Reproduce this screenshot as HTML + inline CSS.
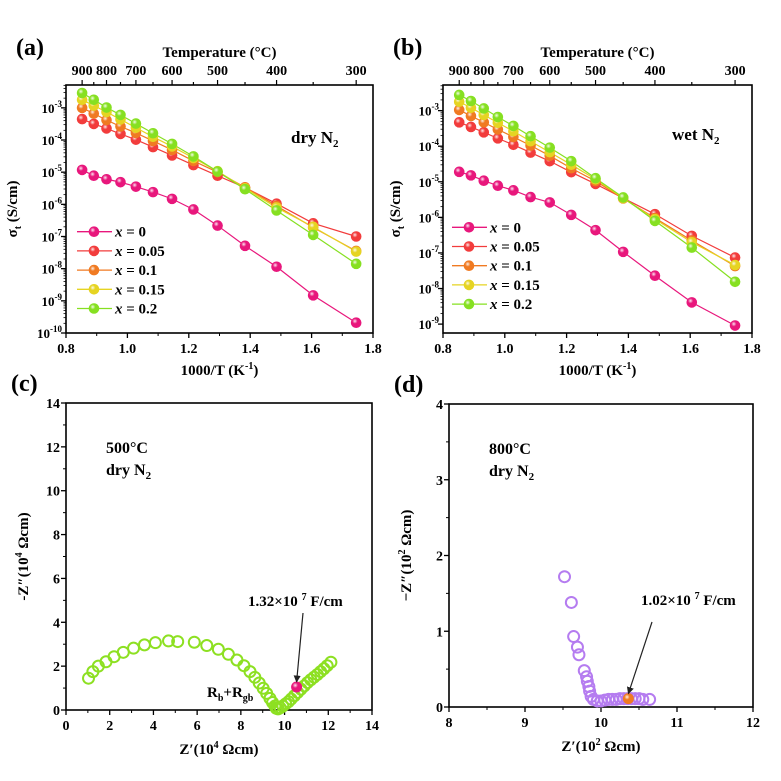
<!DOCTYPE html>
<html><head><meta charset="utf-8"><style>
body{margin:0;background:#fff}
svg{display:block;font-family:"Liberation Serif",serif;font-weight:bold}
</style></head><body>
<svg id="fig" width="781" height="781" viewBox="0 0 781 781" xmlns="http://www.w3.org/2000/svg">
<defs>
<radialGradient id="gl" cx="0.38" cy="0.35" r="0.7"><stop offset="0" stop-color="#fff" stop-opacity="0.9"/><stop offset="0.35" stop-color="#fff" stop-opacity="0"/></radialGradient>
<marker id="ah" viewBox="0 0 10 10" refX="9" refY="5" markerWidth="6" markerHeight="6" orient="auto"><path d="M0,0L10,5L0,10z" fill="#222"/></marker>
</defs>
<g id="root"></g>
</svg>
<script>
// ---- data ----
const temps = [900,850,800,750,700,650,600,550,500,450,400,350,300];
const seriesNames = ["x = 0","x = 0.05","x = 0.1","x = 0.15","x = 0.2"];
const seriesColors = ["#e8177c","#f23c3c","#f07a22","#e6d422","#86e021"];
const dry0 = [-4.93,-5.11,-5.22,-5.31,-5.45,-5.62,-5.83,-6.16,-6.66,-7.29,-7.94,-8.83,-9.68];
const dry05 = [-3.35,-3.50,-3.64,-3.81,-3.99,-4.22,-4.48,-4.78,-5.11,-5.48,-5.98,-6.59,-7.00];
const dry10 = [-3.00,-3.18,-3.38,-3.58,-3.78,-4.03,-4.31,-4.65,-5.00,-5.47,-6.05,-6.72,-7.45];
const dry15 = [-2.75,-2.93,-3.13,-3.36,-3.62,-3.90,-4.20,-4.56,-4.97,-5.50,-6.10,-6.70,-7.47];
const dry20 = [-2.54,-2.75,-2.99,-3.22,-3.49,-3.79,-4.12,-4.51,-4.98,-5.53,-6.19,-6.95,-7.85];
const wet0 = [-4.72,-4.82,-4.97,-5.11,-5.24,-5.43,-5.58,-5.93,-6.36,-6.97,-7.64,-8.39,-9.04];
const wet05 = [-3.33,-3.46,-3.61,-3.78,-3.96,-4.18,-4.42,-4.73,-5.06,-5.46,-5.91,-6.52,-7.13];
const wet10 = [-2.98,-3.15,-3.33,-3.53,-3.74,-3.98,-4.27,-4.62,-4.98,-5.47,-6.02,-6.65,-7.37];
const wet15 = [-2.75,-2.92,-3.12,-3.34,-3.58,-3.86,-4.17,-4.52,-4.93,-5.46,-6.05,-6.70,-7.34];
const wet20 = [-2.56,-2.73,-2.94,-3.18,-3.43,-3.72,-4.04,-4.42,-4.90,-5.44,-6.10,-6.85,-7.81];
const topLabels = [900,800,700,600,500,400,300];
const xTicks = [0.8,1.0,1.2,1.4,1.6,1.8];
const cZre = [1.03,1.23,1.48,1.83,2.2,2.62,3.09,3.59,4.09,4.69,5.11,5.87,6.44,6.97,7.43,7.82,8.14,8.42,8.64,8.84,9.02,9.18,9.33,9.45,9.56,9.62,9.7,9.8,9.92,10.05,10.18,10.3,10.45,10.6,10.75,10.9,11.05,11.2,11.35,11.5,11.65,11.8,11.95,12.12];
const cZim = [1.45,1.75,2.0,2.2,2.43,2.63,2.82,2.97,3.07,3.15,3.12,3.09,2.94,2.77,2.54,2.28,2.02,1.75,1.49,1.23,0.99,0.76,0.53,0.34,0.18,0.08,0.05,0.1,0.18,0.28,0.38,0.5,0.65,0.8,0.95,1.1,1.25,1.38,1.5,1.62,1.75,1.88,2.02,2.18];
const cMark = [10.55,1.05];
const dZre = [9.52,9.61,9.64,9.69,9.71,9.78,9.81,9.82,9.84,9.85,9.87,9.9,9.95,10.0,10.05,10.1,10.15,10.2,10.25,10.3,10.35,10.4,10.45,10.5,10.55,10.64];
const dZim = [1.72,1.38,0.93,0.79,0.69,0.48,0.40,0.34,0.27,0.21,0.14,0.10,0.08,0.08,0.09,0.1,0.1,0.1,0.11,0.11,0.11,0.11,0.11,0.11,0.1,0.1];
const dMark = [10.36,0.11];

const NS="http://www.w3.org/2000/svg";
const root=document.getElementById('root');
function el(tag,attrs,parent,text){const e=document.createElementNS(NS,tag);for(const k in attrs)e.setAttribute(k,attrs[k]);if(text!==undefined)e.textContent=text;(parent||root).appendChild(e);return e;}
function txt(x,y,s,size,anchor,parent,name){const t=el('text',{x:x,y:y,'font-size':size,'text-anchor':anchor||'middle'},parent);t.innerHTML=s;return t;}

function arrPanel(L,R,T,B,ymin,ymax,data,label,cond,condX,condY,legX,legY,legGap,ylabX,tag){
  const g=el('g',{});
  
  
  const sx=v=>L+(v-0.8)/(1.8-0.8)*(R-L);
  const sy=v=>B-(v-ymin)/(ymax-ymin)*(B-T);
  const frame=el('rect',{x:L,y:T,width:R-L,height:B-T,fill:'none',stroke:'#000','stroke-width':1.6},g);
  
  
  xTicks.forEach(v=>{el('line',{x1:sx(v),x2:sx(v),y1:B,y2:B+5,stroke:'#000','stroke-width':1.3},g);
    txt(sx(v),B+20,v.toFixed(1),14,'middle',g,'x-tick-label');});
  for(let v=0.9;v<1.8;v+=0.2)el('line',{x1:sx(v),x2:sx(v),y1:B,y2:B+3,stroke:'#000','stroke-width':1},g);
  for(let d=Math.ceil(ymin);d<=Math.floor(ymax);d++){const y=sy(d);
    el('line',{x1:L-5,x2:L,y1:y,y2:y,stroke:'#000','stroke-width':1.3},g);
    txt(L-4,y+5,'10<tspan font-size="9" dy="-6">'+d+'</tspan>',13,'end',g,'y-tick-label');
    for(let m=2;m<10;m++){const ym=sy(d+Math.log10(m));if(ym>T&&ym<B)el('line',{x1:L-2.5,x2:L,y1:ym,y2:ym,stroke:'#000','stroke-width':0.8},g);}
  }
  temps.forEach(t=>{const x=sx(1000/(t+273));const maj=topLabels.includes(t);
    el('line',{x1:x,x2:x,y1:T,y2:T-(maj?5:3),stroke:'#000','stroke-width':1.2},g);
    if(maj)txt(x,T-10,String(t),14,'middle',g,'top-tick-label');});
  txt((L+R)/2,T-28,'Temperature (°C)',15,'middle',g,'top-axis-title');
  txt((L+R)/2,B+42,'1000/T (K<tspan font-size="10" dy="-6">-1</tspan><tspan dy="6">)</tspan>',15,'middle',g,'x-axis-title');
  const yl=txt(ylabX,(T+B)/2,'σ<tspan font-size="10" dy="4">t</tspan><tspan dy="-4"> (S/cm)</tspan>',15,'middle',g,'y-axis-title');
  yl.setAttribute('transform','rotate(-90 '+ylabX+' '+(T+B)/2+')');
  txt(L-50,T-30,label,24,'start',g,'panel-label');
  txt(condX,condY,cond+' N<tspan font-size="11" dy="4">2</tspan>',17,'start',g,'condition-label');
  data.forEach((s,i)=>{
    const pts=s.map((v,j)=>sx(1000/(temps[j]+273))+','+sy(v)).join(' ');
    const pl=el('polyline',{points:pts,fill:'none',stroke:seriesColors[i],'stroke-width':1.2},g);
    
    
  });
  data.forEach((s,i)=>{s.forEach((v,j)=>{
    const x=sx(1000/(temps[j]+273)),y=sy(v);
    const c=el('circle',{cx:x,cy:y,r:5.3,fill:seriesColors[i]},g);
    
    
    el('circle',{cx:x,cy:y,r:5.3,fill:'url(#gl)'},g);
  });});
  seriesNames.forEach((n,i)=>{const y=legY+i*legGap;
    const lg=el('g',{},g);
    
    
    el('line',{x1:legX,x2:legX+35,y1:y,y2:y,stroke:seriesColors[i],'stroke-width':1.3},lg);
    el('circle',{cx:legX+17,cy:y,r:5.3,fill:seriesColors[i]},lg);
    el('circle',{cx:legX+17,cy:y,r:5.3,fill:'url(#gl)'},lg);
    txt(legX+38,y+5,'<tspan font-style="italic">x</tspan>'+n.slice(1),15,'start',lg,'legend-label');
  });
}
arrPanel(66,373,85,333,-10.0,-2.29,[dry0,dry05,dry10,dry15,dry20],'(a)','dry',291,143,77,231.7,19.2,17,'a');
arrPanel(443,752,85,333,-9.25,-2.28,[wet0,wet05,wet10,wet15,wet20],'(b)','wet',672,140,452,227.3,19.2,400,'b');

function nyq(L,R,T,B,x0,x1,y0,y1,step,xs,ys,mk,mkColor,color,label,tkey,xlab,ylab,ann,annX,annY,arrFrom,tag){
  const g=el('g',{});
  
  
  const sx=v=>L+(v-x0)/(x1-x0)*(R-L);
  const sy=v=>B-(v-y0)/(y1-y0)*(B-T);
  const frame=el('rect',{x:L,y:T,width:R-L,height:B-T,fill:'none',stroke:'#000','stroke-width':1.6},g);
  
  
  for(let v=x0;v<=x1+1e-9;v+=step){el('line',{x1:sx(v),x2:sx(v),y1:B,y2:B+5,stroke:'#000','stroke-width':1.3},g);
    txt(sx(v),B+20,String(Math.round(v)),14,'middle',g,'x-tick-label');
    if(v<x1)el('line',{x1:sx(v+step/2),x2:sx(v+step/2),y1:B,y2:B+3,stroke:'#000','stroke-width':1},g);}
  for(let v=y0;v<=y1+1e-9;v+=step){el('line',{x1:L-5,x2:L,y1:sy(v),y2:sy(v),stroke:'#000','stroke-width':1.3},g);
    txt(L-6,sy(v)+5,String(Math.round(v)),14,'end',g,'y-tick-label');
    if(v<y1)el('line',{x1:L-3,x2:L,y1:sy(v+step/2),y2:sy(v+step/2),stroke:'#000','stroke-width':1},g);}
  txt((L+R)/2,B+44,xlab,15,'middle',g,'x-axis-title');
  const yx=L-38;const yl=txt(yx,(T+B)/2,ylab,15,'middle',g,'y-axis-title');
  yl.setAttribute('transform','rotate(-90 '+yx+' '+(T+B)/2+')');
  txt(L-55,T-12,label,24,'start',g,'panel-label');
  txt(L+40,T+50,tkey,16,'start',g,'temperature-label');
  txt(L+40,T+72,'dry N<tspan font-size="11" dy="4">2</tspan>',16,'start',g,'condition-label');
  xs.forEach((v,i)=>{const c=el('circle',{cx:sx(v),cy:sy(ys[i]),r:5.5,fill:'none',stroke:color,'stroke-width':2},g);
    
    });
  const m=el('circle',{cx:sx(mk[0]),cy:sy(mk[1]),r:5.5,fill:mkColor},g);
  
  
  el('circle',{cx:sx(mk[0]),cy:sy(mk[1]),r:5.5,fill:'url(#gl)'},g);
  const a=el('line',{x1:arrFrom[0],y1:arrFrom[1],x2:sx(mk[0]),y2:sy(mk[1])-5,stroke:'#222','stroke-width':1.2,'marker-end':'url(#ah)'},g);
  
  
  txt(annX,annY,ann,15,'start',g,'capacitance-annotation');
  return {g,sx,sy};
}
const c=nyq(66,372,403,710,0,14,0,14,2,cZre,cZim,cMark,'#e8177c','#8de022','(c)','500°C',
 'Z′(10<tspan font-size="10" dy="-6">4</tspan><tspan dy="6"> Ωcm)</tspan>','-Z″(10<tspan font-size="10" dy="-6">4</tspan><tspan dy="6"> Ωcm)</tspan>',
 '1.32×10 <tspan font-size="10" dy="-6">7</tspan><tspan dy="6"> F/cm</tspan>',248,606,[303,613],'c');
txt(207,697,'R<tspan font-size="10" dy="4">b</tspan><tspan dy="-4">+R</tspan><tspan font-size="10" dy="4">gb</tspan>',15,'start',c.g,'resistance-label');
nyq(449,753,404,707,8,12,0,4,1,dZre,dZim,dMark,'#f07a22','#b57cf0','(d)','800°C',
 'Z′(10<tspan font-size="10" dy="-6">2</tspan><tspan dy="6"> Ωcm)</tspan>','−Z″(10<tspan font-size="10" dy="-6">2</tspan><tspan dy="6"> Ωcm)</tspan>',
 '1.02×10 <tspan font-size="10" dy="-6">7</tspan><tspan dy="6"> F/cm</tspan>',641,605,[652,622],'d');
</script>
</body></html>
